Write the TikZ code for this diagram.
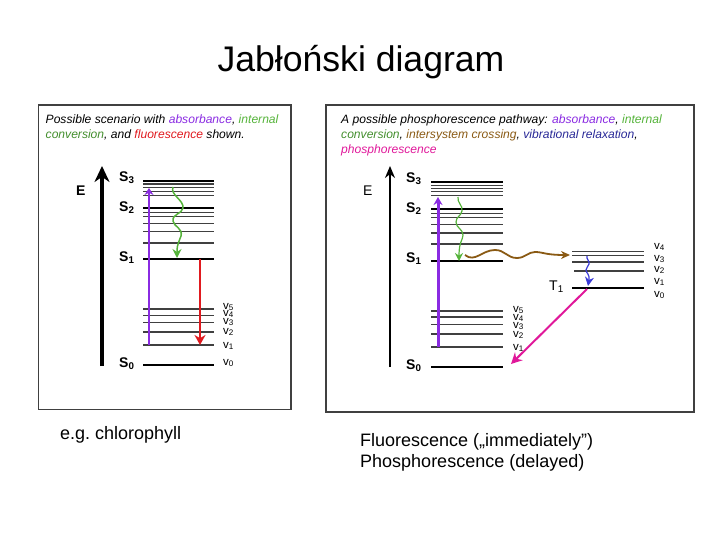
\documentclass[tikz,border=0pt]{standalone}
\usepackage{fontspec}
\setmainfont{Liberation Sans}
\usetikzlibrary{arrows.meta}
\definecolor{absorb}{HTML}{8A2BE2}
\definecolor{internal}{HTML}{55B33A}
\definecolor{fluor}{HTML}{E01A1F}
\definecolor{crossing}{HTML}{8A5A14}
\definecolor{relax}{HTML}{3A3AD8}
\definecolor{phosph}{HTML}{E0189A}
\definecolor{panel}{HTML}{404040}
\tikzset{
  lvlthick/.style={line width=2.6pt,black},
  lvlmid/.style={line width=1.5pt,panel},
  lvlthin/.style={line width=0.9pt,panel},
  lbl/.style={font=\fontsize{14}{14}\selectfont\bfseries,inner sep=0pt,anchor=west},
  vib/.style={font=\fontsize{11.5}{12}\selectfont,inner sep=0pt,anchor=west},
  blurb/.style={font=\fontsize{12.1}{15}\selectfont\itshape,inner sep=0pt,anchor=north west,align=left},
  caption/.style={font=\fontsize{18}{21}\selectfont,inner sep=0pt,anchor=north west,align=left},
}
\begin{document}
\begin{tikzpicture}[x=1pt,y=-1pt]
  \useasboundingbox (0,0) rectangle (720,540);

  \node[font=\fontsize{35.6}{38}\selectfont,inner sep=0pt] (title) at (361,62) {Jabłoński diagram};

  % Left panel
  \draw[line width=1.5pt,panel] (38.5,105) rectangle (291,409.5);
  \node[blurb] (leftblurb) at (45.5,115) {Possible scenario with \textcolor{absorb}{absorbance}, \textcolor{internal}{internal}\\
    \textcolor{internal!80!black}{conversion}, and \textcolor{fluor}{fluorescence} shown.};

  % Energy axis
  \coordinate (eleftlow) at (102,366);
  \coordinate (elefttop) at (102,166);
  \draw[line width=3.2pt,-{Stealth[length=16pt,width=15pt]}] (eleftlow) -- (elefttop);
  \node[lbl] (eleft) at (76,191) {E};

  % Levels
  \draw[lvlthick] (143,181) -- (214,181) (143,208) -- (214,208) (143,259) -- (214,259) (143,365) -- (214,365);
  \draw[lvlmid] (143,184) -- (214,184) (143,243) -- (214,243) (143,309) -- (214,309) (143,332) -- (214,332) (143,345) -- (214,345);
  \draw[lvlthin] (143,187) -- (214,187) (143,191) -- (214,191) (143,195) -- (214,195) (143,212) -- (214,212)
    (143,216) -- (214,216) (143,223) -- (214,223) (143,231) -- (214,231) (143,315) -- (214,315) (143,322) -- (214,322);

  \node[lbl] (sleftthree) at (119,178) {S\textsubscript{3}};
  \node[lbl] (slefttwo) at (119,208) {S\textsubscript{2}};
  \node[lbl] (sleftone) at (119,258) {S\textsubscript{1}};
  \node[lbl] (sleftzero) at (119,364) {S\textsubscript{0}};

  \node[vib] (vleftfive) at (223,307) {v\textsubscript{5}};
  \node[vib] (vleftfour) at (223,314) {v\textsubscript{4}};
  \node[vib] (vleftthree) at (223,322) {v\textsubscript{3}};
  \node[vib] (vlefttwo) at (223,332) {v\textsubscript{2}};
  \node[vib] (vleftone) at (223,346) {v\textsubscript{1}};
  \node[vib] (vleftzero) at (223,363) {v\textsubscript{0}};

  % Transitions
  \coordinate (absleftlow) at (149,345);
  \coordinate (abslefttop) at (149,188);
  \coordinate (icleftlow) at (177,258);
  \coordinate (iclefttop) at (173,187);
  \coordinate (flleftlow) at (200,345);
  \coordinate (fllefttop) at (200,259);
  \draw[absorb,line width=2pt,-{Stealth[length=7pt,width=9pt]}] (absleftlow) -- (abslefttop);
  \draw[internal,line width=1.5pt,-{Stealth[length=9pt,width=9pt]}] (iclefttop) .. controls (170,195) and (184,200) .. (183,208)
    .. controls (182,214) and (172,214) .. (173,221) .. controls (174,227) and (183,228) .. (181,236)
    .. controls (180,241) and (177,242) .. (icleftlow);
  \draw[fluor,line width=2.2pt,-{Stealth[length=10pt,width=11pt]}] (fllefttop) -- (flleftlow);

  \node[caption] (chloro) at (60,426) {e.g.\ chlorophyll};

  % Right panel
  \draw[line width=1.5pt,panel] (326,105) rectangle (694,412);
  \node[blurb] (rightblurb) at (341,115) {A possible phosphorescence pathway: \textcolor{absorb}{absorbance}, \textcolor{internal}{internal}\\
    \textcolor{internal!80!black}{conversion}, \textcolor{crossing}{intersystem crossing}, \textcolor{relax!70!black}{vibrational relaxation},\\
    \textcolor{phosph}{phosphorescence}};

  % Energy axis
  \coordinate (erightlow) at (390,367);
  \coordinate (erighttop) at (390,166);
  \draw[line width=1.8pt,-{Stealth[length=12pt,width=10pt]}] (erightlow) -- (erighttop);
  \node[lbl,font=\fontsize{14}{14}\selectfont] (eright) at (363,191) {E};

  % Singlet levels
  \draw[lvlthick] (431,182) -- (503,182) (431,209) -- (503,209) (431,261) -- (503,261) (431,367) -- (503,367);
  \draw[lvlmid] (431,233) -- (503,233) (431,244) -- (503,244) (431,311) -- (503,311) (431,317) -- (503,317)
    (431,334) -- (503,334) (431,347) -- (503,347);
  \draw[lvlthin] (431,185) -- (503,185) (431,188) -- (503,188) (431,191) -- (503,191) (431,195) -- (503,195)
    (431,213) -- (503,213) (431,217) -- (503,217) (431,224) -- (503,224) (431,324) -- (503,324);

  % Triplet levels
  \draw[lvlthick] (572,288) -- (644,288);
  \draw[lvlmid] (572,262) -- (644,262) (574,271) -- (644,271);
  \draw[lvlthin] (572,251) -- (644,251) (572,255) -- (644,255);

  \node[lbl] (srightthree) at (406,179) {S\textsubscript{3}};
  \node[lbl] (srighttwo) at (406,209) {S\textsubscript{2}};
  \node[lbl] (srightone) at (406,259) {S\textsubscript{1}};
  \node[lbl] (srightzero) at (406,366) {S\textsubscript{0}};
  \node[lbl,font=\fontsize{14}{14}\selectfont] (tone) at (549,287) {T\textsubscript{1}};

  \node[vib] (vrightfive) at (513,310) {v\textsubscript{5}};
  \node[vib] (vrightfour) at (513,318) {v\textsubscript{4}};
  \node[vib] (vrightthree) at (513,326) {v\textsubscript{3}};
  \node[vib] (vrighttwo) at (513,335) {v\textsubscript{2}};
  \node[vib] (vrightone) at (513,348) {v\textsubscript{1}};

  \node[vib] (vtfour) at (654,247) {v\textsubscript{4}};
  \node[vib] (vtthree) at (654,259) {v\textsubscript{3}};
  \node[vib] (vttwo) at (654,270) {v\textsubscript{2}};
  \node[vib] (vtone) at (654,282) {v\textsubscript{1}};
  \node[vib] (vtzero) at (654,295) {v\textsubscript{0}};

  % Transitions
  \coordinate (absrightlow) at (438,347);
  \coordinate (absrighttop) at (438,197);
  \coordinate (icrightlow) at (459,261);
  \coordinate (icrighttop) at (458,197);
  \coordinate (iscstart) at (465,255);
  \coordinate (iscend) at (570,255);
  \coordinate (vrtop) at (587,256);
  \coordinate (vrlow) at (588,286);
  \coordinate (phstart) at (587,289);
  \coordinate (phend) at (511,364);
  \draw[absorb,line width=3pt,-{Stealth[length=8pt,width=9pt]}] (absrightlow) -- (absrighttop);
  \draw[internal,line width=1.2pt,-{Stealth[length=8pt,width=8pt]}] (icrighttop) .. controls (457,203) and (463,205) .. (462,211)
    .. controls (461,216) and (456,217) .. (456,222) .. controls (456,228) and (463,229) .. (463,235)
    .. controls (463,240) and (459,241) .. (icrightlow);
  \draw[crossing,line width=1.8pt,-{Stealth[length=9pt,width=8pt]}] (iscstart) .. controls (475,263) and (482,250) .. (495,250)
    .. controls (505,250) and (507,258) .. (517,258) .. controls (525,258) and (528,252) .. (535,252)
    .. controls (543,252) and (545,255) .. (iscend);
  \draw[relax,line width=1.2pt,-{Stealth[length=9pt,width=9pt]}] (vrtop) .. controls (586,259) and (590,261) .. (589,264)
    .. controls (588,267) and (586,268) .. (586,270) .. controls (586,273) and (590,274) .. (vrlow);
  \draw[phosph,line width=2pt,-{Stealth[length=11pt,width=11pt]}] (phstart) -- (phend);

  \node[caption] (fluortext) at (360,433) {Fluorescence („immediately”)\\Phosphorescence (delayed)};
\end{tikzpicture}
\end{document}
